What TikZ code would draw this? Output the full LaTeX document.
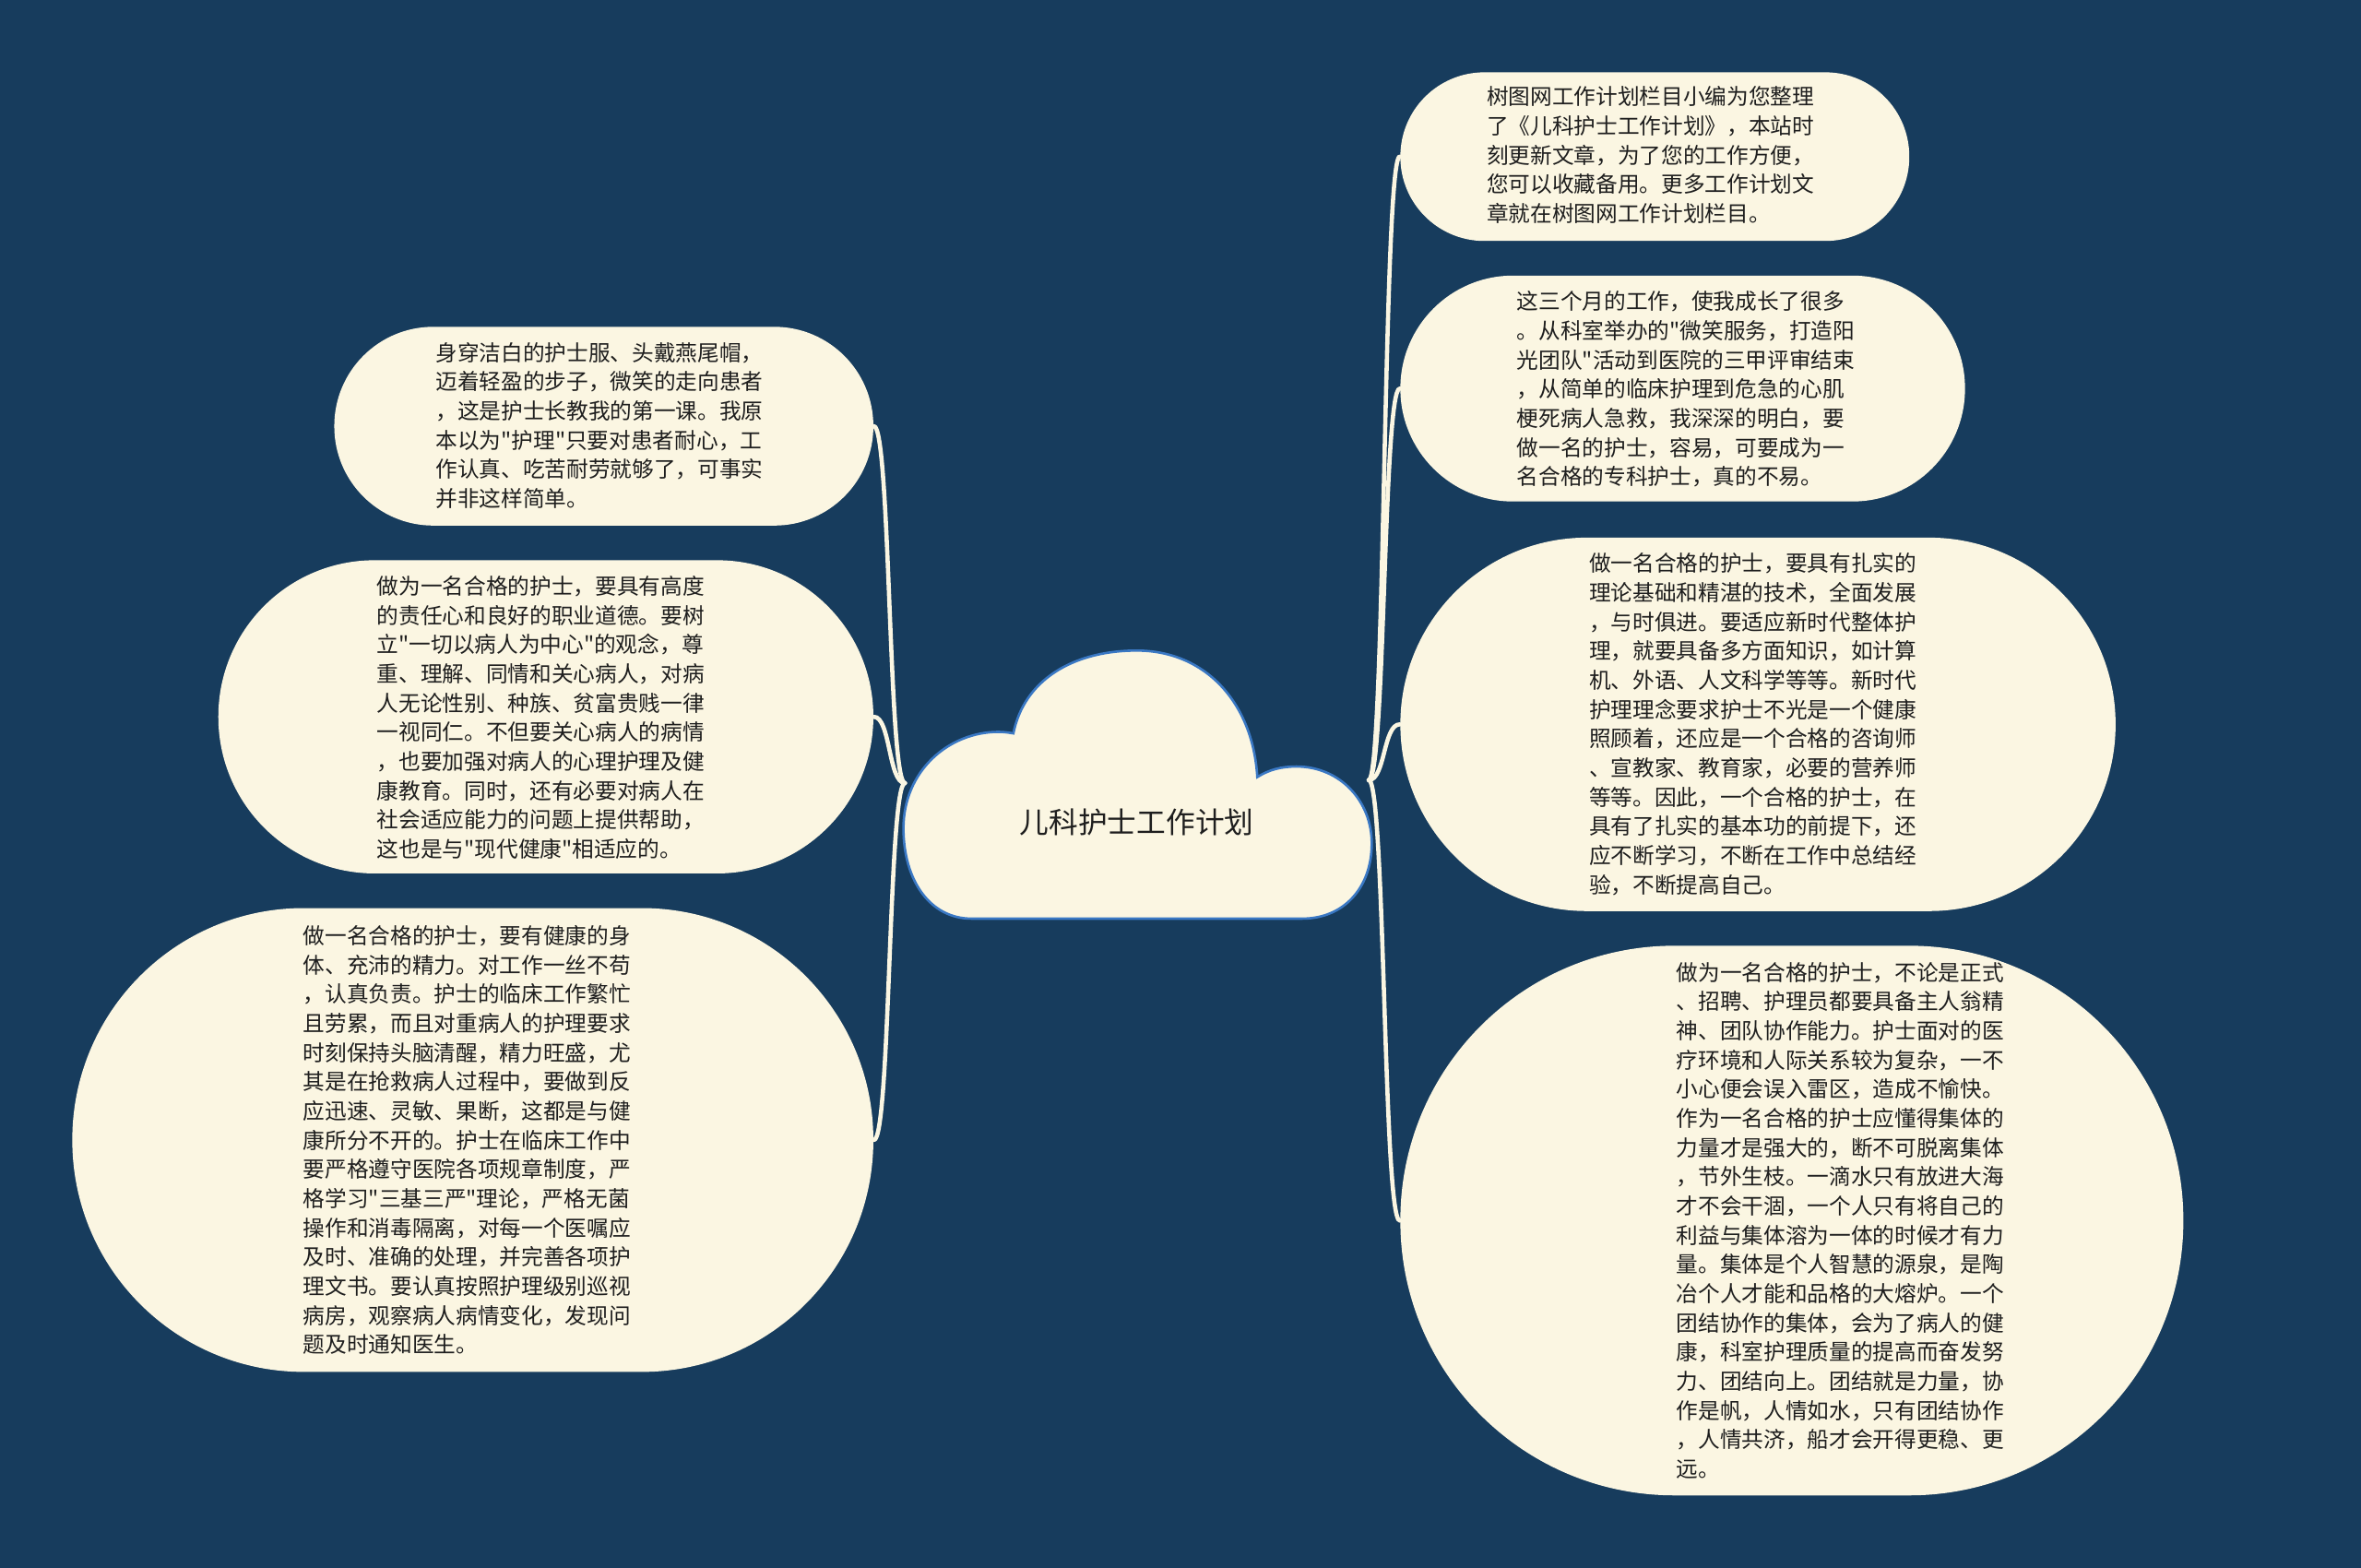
\documentclass[tikz,border=0pt]{standalone}
\usepackage{fontspec}
\newfontfamily\cjk{Noto Sans CJK SC}
\definecolor{bg}{HTML}{173C5D}
\definecolor{cream}{HTML}{FBF6E2}
\definecolor{cloudblue}{HTML}{3A78C4}
\definecolor{ink}{HTML}{1E1E1E}
\tikzset{
  bub/.style={fill=cream, draw=none, inner sep=0pt, shape=rectangle},
  txt/.style={inner sep=0pt, align=left, text=ink, font=\cjk\fontsize{7.25pt}{9.7pt}\selectfont, anchor=west},
  conn/.style={draw=cream, line width=1.4pt, line cap=round},
}
\begin{document}
\begin{tikzpicture}[x=0.5pt,y=-0.5pt]
\useasboundingbox (0,0) rectangle (1568,1041);
\fill[bg] (0,0) rectangle (1568,1041);

% central cloud
\filldraw[fill=cream, draw=cloudblue, line width=0.8pt]
  (673,487) .. controls (680,452) and (712,432) .. (755,432)
  .. controls (800,432) and (832,466) .. (835,516)
  .. controls (843,511) and (851,509) .. (861,509)
  .. controls (890,509) and (911,532) .. (911,560)
  .. controls (911,590) and (892,610) .. (865,610)
  -- (645,610)
  .. controls (618,610) and (600,585) .. (600,550)
  .. controls (600,512) and (630,486) .. (663,486)
  .. controls (667,486) and (670,486.5) .. cycle;
\node[inner sep=0pt, text=ink, font=\cjk\fontsize{9.7pt}{12pt}\selectfont] (root) at (755,546) {儿科护士工作计划};
\coordinate (jl) at (601,520);
\coordinate (jr) at (909,518);

% right bubbles
\node[bub, minimum width=169pt, minimum height=56pt, rounded corners=27.9pt] (r1) at (1099,104) {};
\node[bub, minimum width=187.5pt, minimum height=75pt, rounded corners=37.4pt] (r2) at (1117.5,258) {};
\node[bub, minimum width=237.5pt, minimum height=124pt, rounded corners=61.9pt] (r3) at (1167.5,481) {};
\node[bub, minimum width=260pt, minimum height=182.5pt, rounded corners=91pt] (r4) at (1190,810.5) {};
% left bubbles
\node[bub, minimum width=179pt, minimum height=66pt, rounded corners=32.9pt] (l1) at (401,283) {};
\node[bub, minimum width=217.5pt, minimum height=104pt, rounded corners=51.9pt] (l2) at (362.5,476) {};
\node[bub, minimum width=266pt, minimum height=154pt, rounded corners=76.9pt] (l3) at (314,757) {};

% texts
\node[txt] (r1t) at (987,103) {树图网工作计划栏目小编为您整理\\了《儿科护士工作计划》，本站时\\刻更新文章，为了您的工作方便，\\您可以收藏备用。更多工作计划文\\章就在树图网工作计划栏目。};
\node[txt] (r2t) at (1007,258.5) {这三个月的工作，使我成长了很多\\。从科室举办的"微笑服务，打造阳\\光团队"活动到医院的三甲评审结束\\，从简单的临床护理到危急的心肌\\梗死病人急救，我深深的明白，要\\做一名的护士，容易，可要成为一\\名合格的专科护士，真的不易。};
\node[txt] (r3t) at (1055,481) {做一名合格的护士，要具有扎实的\\理论基础和精湛的技术，全面发展\\，与时俱进。要适应新时代整体护\\理，就要具备多方面知识，如计算\\机、外语、人文科学等等。新时代\\护理理念要求护士不光是一个健康\\照顾着，还应是一个合格的咨询师\\、宣教家、教育家，必要的营养师\\等等。因此，一个合格的护士，在\\具有了扎实的基本功的前提下，还\\应不断学习，不断在工作中总结经\\验，不断提高自己。};
\node[txt] (r4t) at (1113,810.5) {做为一名合格的护士，不论是正式\\、招聘、护理员都要具备主人翁精\\神、团队协作能力。护士面对的医\\疗环境和人际关系较为复杂，一不\\小心便会误入雷区，造成不愉快。\\作为一名合格的护士应懂得集体的\\力量才是强大的，断不可脱离集体\\，节外生枝。一滴水只有放进大海\\才不会干涸，一个人只有将自己的\\利益与集体溶为一体的时候才有力\\量。集体是个人智慧的源泉，是陶\\冶个人才能和品格的大熔炉。一个\\团结协作的集体，会为了病人的健\\康，科室护理质量的提高而奋发努\\力、团结向上。团结就是力量，协\\作是帆，人情如水，只有团结协作\\，人情共济，船才会开得更稳、更\\远。};
\node[txt] (l1t) at (289,282.5) {身穿洁白的护士服、头戴燕尾帽，\\迈着轻盈的步子，微笑的走向患者\\，这是护士长教我的第一课。我原\\本以为"护理"只要对患者耐心，工\\作认真、吃苦耐劳就够了，可事实\\并非这样简单。};
\node[txt] (l2t) at (250,476.5) {做为一名合格的护士，要具有高度\\的责任心和良好的职业道德。要树\\立"一切以病人为中心"的观念，尊\\重、理解、同情和关心病人，对病\\人无论性别、种族、贫富贵贱一律\\一视同仁。不但要关心病人的病情\\，也要加强对病人的心理护理及健\\康教育。同时，还有必要对病人在\\社会适应能力的问题上提供帮助，\\这也是与"现代健康"相适应的。};
\node[txt] (l3t) at (201,757) {做一名合格的护士，要有健康的身\\体、充沛的精力。对工作一丝不苟\\，认真负责。护士的临床工作繁忙\\且劳累，而且对重病人的护理要求\\时刻保持头脑清醒，精力旺盛，尤\\其是在抢救病人过程中，要做到反\\应迅速、灵敏、果断，这都是与健\\康所分不开的。护士在临床工作中\\要严格遵守医院各项规章制度，严\\格学习"三基三严"理论，严格无菌\\操作和消毒隔离，对每一个医嘱应\\及时、准确的处理，并完善各项护\\理文书。要认真按照护理级别巡视\\病房，观察病人病情变化，发现问\\题及时通知医生。};

% connectors
\draw[conn] (jr) .. controls +(11,0) and +(-11,0) .. (r1.west);
\draw[conn] (jr) .. controls +(11,0) and +(-11,0) .. (r2.west);
\draw[conn] (jr) .. controls +(11,0) and +(-11,0) .. (r3.west);
\draw[conn] (jr) .. controls +(11,0) and +(-11,0) .. (r4.west);
\draw[conn] (jl) .. controls +(-11,0) and +(11,0) .. (l1.east);
\draw[conn] (jl) .. controls +(-11,0) and +(11,0) .. (l2.east);
\draw[conn] (jl) .. controls +(-11,0) and +(11,0) .. (l3.east);
\end{tikzpicture}
\end{document}
